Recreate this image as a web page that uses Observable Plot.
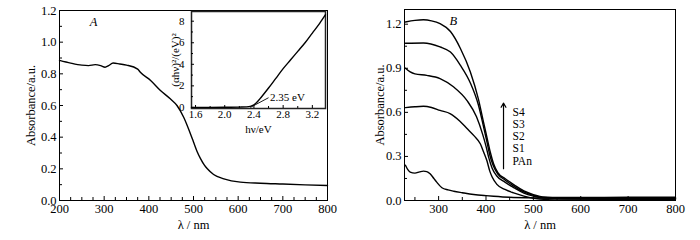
<!DOCTYPE html>
<html><head><meta charset="utf-8">
<script src="https://cdn.jsdelivr.net/npm/d3@7"></script>
<script src="https://cdn.jsdelivr.net/npm/@observablehq/plot@0.6"></script>
<style>
body{margin:0;background:#fff}
#wrap{position:relative;width:700px;height:240px;font-family:"Liberation Serif",serif}
#wrap > div{position:absolute;top:0}
#wrap svg, #wrap svg text{font-family:"Liberation Serif",serif !important}
</style></head><body>
<div id="wrap"><div id="pa" style="left:0"></div><div id="pb" style="left:350px"></div><div id="inset" style="left:0;pointer-events:none"></div></div>
<script>
// ---------- Panel A data ----------
const waveA = [200,225,250,265,280,292,302,310,320,335,350,375,381,404,426,448,463,478,492,500,508,516,524,531,545,568,605,650,700,750,800];
const absA  = [0.885,0.868,0.855,0.852,0.858,0.852,0.842,0.852,0.868,0.862,0.855,0.83,0.81,0.758,0.695,0.642,0.6,0.526,0.43,0.37,0.31,0.263,0.225,0.2,0.164,0.137,0.116,0.109,0.104,0.099,0.095];
// ---------- Inset data ----------
const energy = [1.545,1.8,2.0,2.2,2.3,2.35,2.4,2.45,2.5,2.6,2.7,2.8,2.9,3.0,3.1,3.2,3.3,3.38];
const tauc   = [0,0,0.01,0.03,0.05,0.1,0.25,0.55,0.95,1.8,2.7,3.6,4.4,5.2,6.0,6.9,7.8,8.6];
// ---------- Panel B data ----------
const seriesB = ["PAn","S1","S2","S3","S4"];
const waveB_PAn = [230,235,240,250,260,268,275,282,290,296,307,320,332,350,374,400,416,450,500,550,600,700,800];
const absB_PAn  = [0.24,0.21,0.193,0.186,0.195,0.2,0.197,0.182,0.15,0.125,0.087,0.072,0.063,0.053,0.041,0.033,0.029,0.022,0.018,0.015,0.013,0.012,0.012];
const waveB_S1 = [230,250,268,285,303,325,345,360,375,388,395,402,408,413,423,440,460,480,500,530,560,650,800];
const absB_S1  = [0.632,0.638,0.641,0.633,0.613,0.59,0.54,0.49,0.44,0.386,0.33,0.27,0.2,0.16,0.11,0.075,0.05,0.03,0.015,0.006,0.004,0.005,0.005];
const waveB_S2 = [230,240,250,275,303,332,360,380,393,400,406,413,422,440,460,480,500,520,560,650,800];
const absB_S2  = [0.9,0.875,0.862,0.852,0.83,0.772,0.68,0.57,0.45,0.37,0.29,0.22,0.17,0.125,0.085,0.05,0.03,0.018,0.012,0.012,0.012];
const waveB_S3 = [230,268,303,325,346,367,384,395,402,408,415,425,440,460,480,500,520,560,650,800];
const absB_S3  = [1.07,1.072,1.045,1.01,0.92,0.8,0.65,0.5,0.4,0.31,0.24,0.18,0.14,0.095,0.058,0.035,0.02,0.016,0.017,0.017];
const waveB_S4 = [230,250,268,285,303,325,346,367,384,395,402,409,416,425,440,460,480,500,520,560,600,700,800];
const absB_S4  = [1.215,1.226,1.23,1.223,1.204,1.15,1.035,0.875,0.69,0.53,0.43,0.33,0.25,0.19,0.15,0.105,0.065,0.04,0.025,0.02,0.02,0.022,0.022];
// ---------- Ticks ----------
const xTicksA = [200,300,400,500,600,700,800];
const xMinorA = d3.range(225,800,25).filter(v => v % 100 !== 0);
const yTicksA = [0,0.2,0.4,0.6,0.8,1.0,1.2];
const yMinorA = [0.1,0.3,0.5,0.7,0.9,1.1];
const xTicksI = [1.6,2.0,2.4,2.8,3.2];
const xMinorI = [1.8,2.2,2.6,3.0];
const yTicksI = [0,2,4,6,8];
const yMinorI = [1,3,5,7];
const xTicksB = [300,400,500,600,700,800];
const xMinorB = [250,350,450,550,650,750];
const yTicksB = [0,0.3,0.6,0.9,1.2];
const yMinorB = [0.15,0.45,0.75,1.05];
// ---------- Annotations ----------
const panelLabelA = [{x:276, y:1.13, text:"A"}];
const panelLabelB = [{x:331, y:1.222, text:"B"}];
const gapLabel = [{x:2.62, y:0.95, text:"2.35 eV"}];
const gapPointer = [{x1:2.35, y1:0.0, x2:2.6, y2:0.9}];
const legendLabels = ["S4","S3","S2","S1","PAn"];
const legendX = 456;
const legendY = [0.598,0.516,0.434,0.352,0.270];
const arrowB = [{x:437, y1:0.216, y2:0.663}];

const font = '"Liberation Serif", serif';
const tf1 = d3.format(".1f");

const rowsA = waveA.map((w,i)=>({w, a:absA[i]}));
const rowsI = energy.map((e,i)=>({e, v:tauc[i]}));
const bSets = {PAn:[waveB_PAn,absB_PAn], S1:[waveB_S1,absB_S1], S2:[waveB_S2,absB_S2], S3:[waveB_S3,absB_S3], S4:[waveB_S4,absB_S4]};
const rowsB = seriesB.flatMap(s => bSets[s][0].map((w,i)=>({s, w, a:bSets[s][1][i]})));

const pa = Plot.plot({
  width:350, height:240, marginLeft:59, marginRight:23, marginTop:10, marginBottom:40,
  style:{fontFamily:font, fontSize:"12.5px", background:"transparent", color:"#000"},
  x:{domain:[200,800]}, y:{domain:[0,1.2]},
  marks:[
    Plot.frame({stroke:"#000", strokeWidth:1}),
    Plot.axisX(xTicksA, {tickSize:-4, tickPadding:8, tickFormat:d=>d, label:"λ / nm", labelAnchor:"center", labelOffset:28, labelArrow:"none"}),
    Plot.axisX(xMinorA, {tickSize:-3, tickFormat:()=>"", label:null}),
    Plot.axisY(yTicksA, {tickSize:-4, tickPadding:7, tickFormat:tf1, label:"Absorbance/a.u.", labelAnchor:"center", labelOffset:33, labelArrow:"none"}),
    Plot.axisY(yMinorA, {tickSize:-3, tickFormat:()=>"", label:null}),
    Plot.line(rowsA, {x:"w", y:"a", stroke:"#000", strokeWidth:1.4, curve:"monotone-x"}),
    Plot.text(panelLabelA, {x:"x", y:"y", text:"text", fontStyle:"italic", fontSize:12.5})
  ]
});
document.getElementById("pa").append(pa);

const inset = Plot.plot({
  width:350, height:240, marginLeft:191, marginRight:25, marginTop:11, marginBottom:132,
  style:{fontFamily:font, fontSize:"11px", background:"transparent", color:"#000"},
  x:{domain:[1.545,3.38]}, y:{domain:[-0.1,8.9]},
  marks:[
    Plot.frame({stroke:"#222", strokeWidth:1.5}),
    Plot.axisX(xTicksI, {tickSize:-3, tickPadding:5, tickFormat:tf1, label:"hν/eV", labelAnchor:"center", labelOffset:24, labelArrow:"none"}),
    Plot.axisX(xMinorI, {tickSize:-2, tickFormat:()=>"", label:null}),
    Plot.axisY(yTicksI, {tickSize:-3, tickPadding:10, tickFormat:d=>d, label:"(αhν)²/(eV)²", labelAnchor:"center", labelOffset:20, labelArrow:"none"}),
    Plot.axisY(yMinorI, {tickSize:-2, tickFormat:()=>"", label:null}),
    Plot.line(rowsI, {x:"e", y:"v", stroke:"#000", strokeWidth:1.4, curve:"monotone-x"}),
    Plot.link(gapPointer, {x1:"x1", y1:"y1", x2:"x2", y2:"y2", stroke:"#000", strokeWidth:0.9}),
    Plot.text(gapLabel, {x:"x", y:"y", text:"text", textAnchor:"start", fontSize:11})
  ]
});
document.getElementById("inset").append(inset);

const pb = Plot.plot({
  width:350, height:240, marginLeft:54, marginRight:25, marginTop:9, marginBottom:40,
  style:{fontFamily:font, fontSize:"12.5px", background:"transparent", color:"#000"},
  x:{domain:[228,800]}, y:{domain:[0,1.3]},
  marks:[
    Plot.frame({stroke:"#000", strokeWidth:1}),
    Plot.axisX(xTicksB, {tickSize:-4, tickPadding:8, tickFormat:d=>d, label:"λ / nm", labelAnchor:"center", labelOffset:28, labelArrow:"none"}),
    Plot.axisX(xMinorB, {tickSize:-3, tickFormat:()=>"", label:null}),
    Plot.axisY(yTicksB, {tickSize:-4, tickPadding:7, tickFormat:tf1, label:"Absorbance/a.u.", labelAnchor:"center", labelOffset:29, labelArrow:"none"}),
    Plot.axisY(yMinorB, {tickSize:-3, tickFormat:()=>"", label:null}),
    Plot.line(rowsB, {x:"w", y:"a", z:"s", stroke:"#000", strokeWidth:1.4, curve:"monotone-x"}),
    Plot.arrow(arrowB, {x:"x", y1:"y1", y2:"y2", stroke:"#000", strokeWidth:1.2, headLength:6}),
    Plot.text(legendLabels, {x:()=>legendX, y:(d,i)=>legendY[i], text:d=>d, textAnchor:"start", fontSize:11.5, fontWeight:(d)=>d==="PAn"?"normal":"bold"}),
    Plot.text(panelLabelB, {x:"x", y:"y", text:"text", fontStyle:"italic", fontSize:12.5})
  ]
});
document.getElementById("pb").append(pb);
</script>
</body></html>
